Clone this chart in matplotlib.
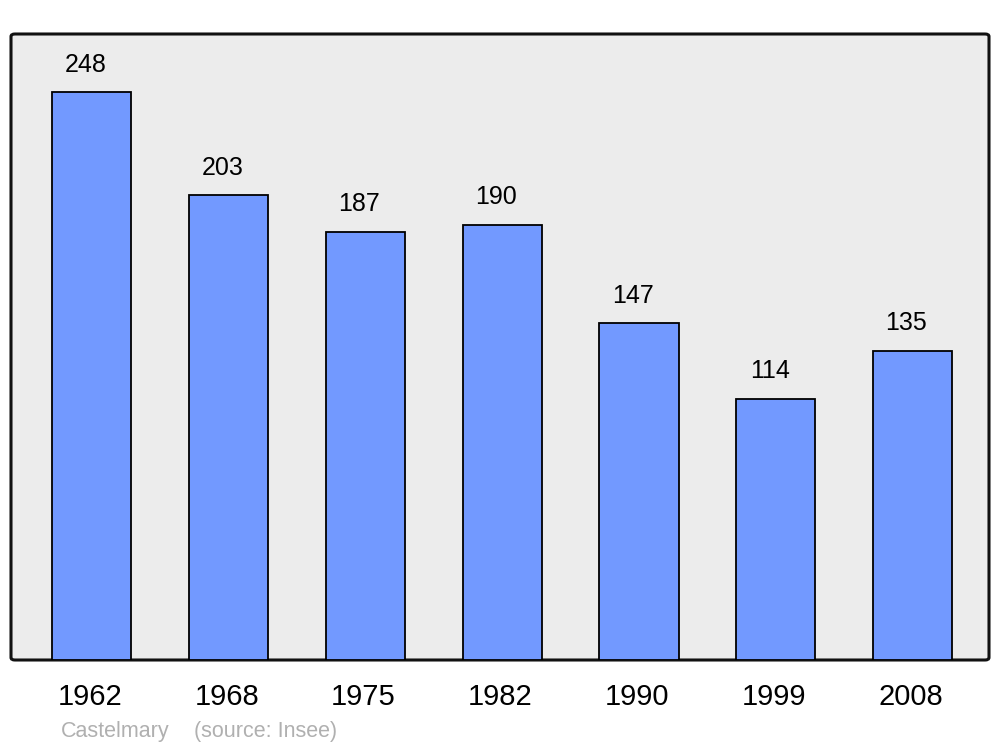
import matplotlib
matplotlib.use("Agg")
import matplotlib.pyplot as plt
from matplotlib.patches import FancyBboxPatch

plt.rcParams['font.family'] = ['Liberation Sans', 'DejaVu Sans']

years = ["1962", "1968", "1975", "1982", "1990", "1999", "2008"]
population = [248, 203, 187, 190, 147, 114, 135]
town = "Castelmary"
source = "(source: Insee)"

fig = plt.figure(figsize=(10, 7.47), dpi=100)
ax = fig.add_axes([0.011, 1 - 660 / 747, 0.978, 626 / 747])
ax.set_facecolor('none')

# rounded grey frame
frame = FancyBboxPatch((0, 0), 1, 1, boxstyle="round,pad=0,rounding_size=0.004",
                       transform=ax.transAxes, facecolor='#ececec',
                       edgecolor='#111111', linewidth=2.2, zorder=0, clip_on=False)
ax.add_patch(frame)

pos = list(range(len(years)))
bars = ax.bar(pos, population, width=0.578, color='#7299ff',
              edgecolor='black', linewidth=1.3, zorder=2)

for x, v in zip(pos, population):
    ax.text(x - 0.045, v + 12, str(v), ha='center', va='center', fontsize=18)

ax.set_xlim(-0.592, 6.559)
ax.set_ylim(0, 273.4)
ax.set_yticks([])
ax.set_xticks([p - 0.015 for p in pos])
ax.set_xticklabels(years, fontsize=21)
ax.tick_params(axis='x', length=0, pad=16.5)
for s in ax.spines.values():
    s.set_visible(False)

fig.text(0.061, 1 - 731 / 747, town, color='#b0b0b0', fontsize=15.5, va='center')
fig.text(0.194, 1 - 731 / 747, source, color='#b0b0b0', fontsize=15.5, va='center')

fig.savefig("out.png", dpi=100)
